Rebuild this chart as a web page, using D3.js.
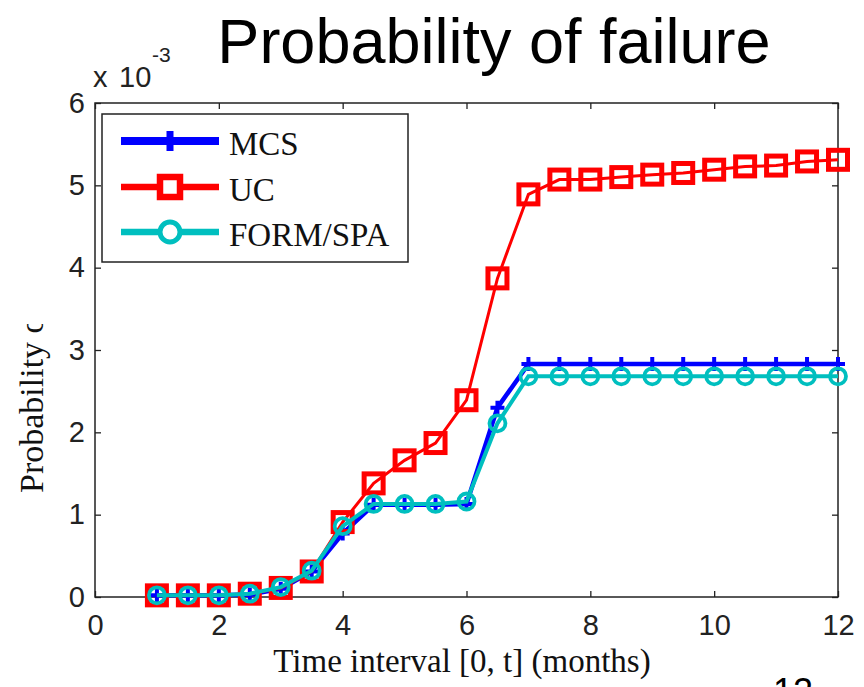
<!DOCTYPE html>
<html><head><meta charset="utf-8">
<script src="https://cdn.jsdelivr.net/npm/d3@7"></script>
<style>body{margin:0;background:#fff}svg{display:block}</style>
</head><body>
<svg id="c" width="864" height="687"></svg>
<script>
const months = [1,1.5,2,2.5,3,3.5,4,4.5,5,5.5,6,6.5,7,7.5,8,8.5,9,9.5,10,10.5,11,11.5,12];
const mcs  = [0.02,0.02,0.02,0.03,0.10,0.31,0.77,1.12,1.12,1.12,1.13,2.30,2.83,2.83,2.83,2.83,2.83,2.83,2.83,2.83,2.83,2.83,2.83];
const uc   = [0.02,0.02,0.02,0.04,0.11,0.31,0.91,1.38,1.66,1.87,2.39,3.87,4.89,5.07,5.07,5.10,5.13,5.15,5.19,5.23,5.24,5.29,5.31];
const form = [0.02,0.02,0.02,0.04,0.12,0.32,0.86,1.13,1.13,1.13,1.16,2.11,2.68,2.68,2.68,2.68,2.68,2.68,2.68,2.68,2.68,2.68,2.68];
const seriesNames = ["MCS","UC","FORM/SPA"];
const xTicks = [0,2,4,6,8,10,12];
const yTicks = [0,1,2,3,4,5,6];
const titleText = "Probability of failure";
const xLabel = "Time interval [0, t] (months)";
const yLabel = "Probability of failure";

const svg = d3.select("#c");
const x = d3.scaleLinear().domain([0,12]).range([95,838]);
const y = d3.scaleLinear().domain([0,6]).range([597,103]);
const sans = "'Liberation Sans', Arial, sans-serif";
const serif = "'Liberation Serif', 'Times New Roman', serif";

// title
svg.append("text").attr("x",494).attr("y",63).attr("text-anchor","middle")
  .attr("font-family",sans).attr("font-size",63).attr("fill","#000").text(titleText);

// exponent label
svg.append("text").attr("x",93).attr("y",87).attr("font-family",sans).attr("font-size",29).attr("fill","#222").text("x");
svg.append("text").attr("x",119).attr("y",87).attr("font-family",sans).attr("font-size",29).attr("fill","#222").text("10");
svg.append("text").attr("x",152).attr("y",62).attr("font-family",sans).attr("font-size",21).attr("fill","#222").text("-3");

// axes
function styleAxis(g, labels){
  g.select(".domain").remove();
  g.selectAll(".tick line").attr("stroke","#222").attr("stroke-width",1.3);
  g.selectAll(".tick text").attr("font-family",sans).attr("font-size",29).attr("fill","#222");
  if(!labels) g.selectAll(".tick text").remove();
}
svg.append("g").attr("transform","translate(0,597)")
  .call(d3.axisBottom(x).tickValues(xTicks).tickFormat(d3.format("d")).tickSize(-6).tickPadding(17))
  .call(g=>styleAxis(g,true));
svg.append("g").attr("transform","translate(0,103)")
  .call(d3.axisTop(x).tickValues(xTicks).tickSize(-6))
  .call(g=>styleAxis(g,false));
svg.append("g").attr("transform","translate(95,0)")
  .call(d3.axisLeft(y).tickValues(yTicks).tickFormat(d3.format("d")).tickSize(-6).tickPadding(10))
  .call(g=>styleAxis(g,true));
svg.append("g").attr("transform","translate(838,0)")
  .call(d3.axisRight(y).tickValues(yTicks).tickSize(-6))
  .call(g=>styleAxis(g,false));

svg.append("rect").attr("x",x(0)).attr("y",y(6)).attr("width",x(12)-x(0)).attr("height",y(0)-y(6))
  .attr("fill","none").attr("stroke","#222").attr("stroke-width",1.5);

// axis labels
svg.append("text").attr("x",462).attr("y",672).attr("text-anchor","middle")
  .attr("font-family",serif).attr("font-size",33).attr("fill","#111").text(xLabel);

svg.append("clipPath").attr("id","ylc").append("rect").attr("x",0).attr("y",324).attr("width",90).attr("height",300);
svg.append("g").attr("clip-path","url(#ylc)")
  .append("text").attr("transform","translate(43,493) rotate(-90)")
  .attr("font-family",serif).attr("font-size",34).attr("fill","#111").text(yLabel);

// series
const line = d3.line().x(d=>x(d[0])).y(d=>y(d[1]));
const dMcs = months.map((m,i)=>[m,mcs[i]]);
const dUc = months.map((m,i)=>[m,uc[i]]);
const dForm = months.map((m,i)=>[m,form[i]]);
const blue="#0000ff", red="#ff0000", cyan="#00bfbf";

// MCS
svg.append("path").datum(dMcs).attr("d",line).attr("fill","none").attr("stroke",blue).attr("stroke-width",4.5);
svg.append("g").selectAll("path").data(dMcs).join("path")
  .attr("transform",d=>`translate(${x(d[0])},${y(d[1])})`)
  .attr("d","M-7,0H7M0,-7V7").attr("stroke",blue).attr("stroke-width",4).attr("fill","none");
// UC
svg.append("path").datum(dUc).attr("d",line).attr("fill","none").attr("stroke",red).attr("stroke-width",3);
svg.append("g").selectAll("rect").data(dUc).join("rect")
  .attr("x",d=>x(d[0])-9.5).attr("y",d=>y(d[1])-9.5).attr("width",19).attr("height",19)
  .attr("fill","none").attr("stroke",red).attr("stroke-width",5);
// FORM/SPA
svg.append("path").datum(dForm).attr("d",line).attr("fill","none").attr("stroke",cyan).attr("stroke-width",4);
svg.append("g").selectAll("circle").data(dForm).join("circle")
  .attr("cx",d=>x(d[0])).attr("cy",d=>y(d[1])).attr("r",8)
  .attr("fill","none").attr("stroke",cyan).attr("stroke-width",3.8);

// legend
const lg = svg.append("g");
lg.append("rect").attr("x",102).attr("y",114).attr("width",306).attr("height",148)
  .attr("fill","#fff").attr("stroke","#222").attr("stroke-width",1.5);
const rows=[141,187,232];
lg.append("line").attr("x1",121).attr("x2",219).attr("y1",rows[0]).attr("y2",rows[0]).attr("stroke",blue).attr("stroke-width",8);
lg.append("path").attr("d",`M170,${rows[0]-10}V${rows[0]+10}`).attr("stroke",blue).attr("stroke-width",7);
lg.append("line").attr("x1",121).attr("x2",219).attr("y1",rows[1]).attr("y2",rows[1]).attr("stroke",red).attr("stroke-width",6.5);
lg.append("rect").attr("x",170-10).attr("y",rows[1]-10).attr("width",20).attr("height",20).attr("fill","#fff").attr("stroke",red).attr("stroke-width",6.5);
lg.append("line").attr("x1",121).attr("x2",219).attr("y1",rows[2]).attr("y2",rows[2]).attr("stroke",cyan).attr("stroke-width",6.5);
lg.append("circle").attr("cx",170).attr("cy",rows[2]).attr("r",10).attr("fill","#fff").attr("stroke",cyan).attr("stroke-width",5);
lg.selectAll("text.lt").data(seriesNames).join("text").attr("class","lt")
  .attr("x",229).attr("y",(d,i)=>rows[i]+14).attr("font-family",serif).attr("font-size",33).attr("fill","#111").text(d=>d);

// page number at the bottom right (cut off by the page edge, as in the reference)
svg.append("text").attr("x",773).attr("y",704).attr("font-family",sans).attr("font-size",36).attr("fill","#000").text("12");
</script>
</body></html>
